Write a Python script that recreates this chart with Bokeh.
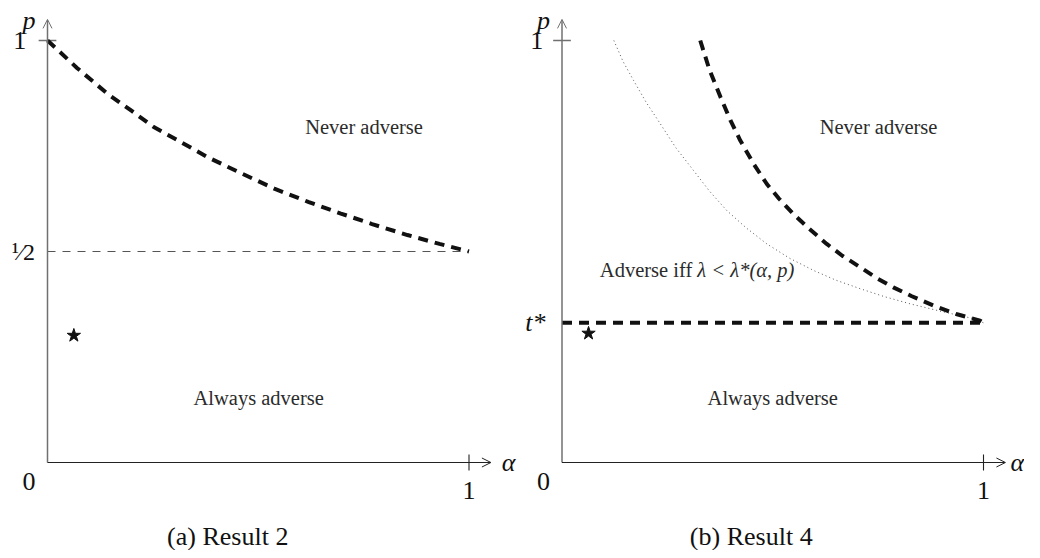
from bokeh.plotting import figure
from bokeh.layouts import row
from bokeh.models import Range1d, Arrow, OpenHead
from bokeh.core.properties import value
from bokeh.embed import file_html
from bokeh.resources import INLINE

# ---------------- data ----------------
# Panel (a): Result 2
a_curve_alpha = [0.0, 0.07, 0.142, 0.2, 0.252, 0.31, 0.379, 0.45, 0.538, 0.62, 0.696, 0.77, 0.854, 0.93, 1.0]
a_curve_p = [1.0, 0.935, 0.874, 0.833, 0.795, 0.763, 0.724, 0.69, 0.649, 0.617, 0.590, 0.565, 0.539, 0.518, 0.5]
a_half = 0.5
a_star = (0.0625, 0.301)

# Panel (b): Result 4
b_thick_alpha = [0.328, 0.350, 0.376, 0.400, 0.423, 0.455, 0.486, 0.515, 0.549, 0.585, 0.628, 0.665,
                 0.707, 0.745, 0.786, 0.830, 0.881, 0.935, 0.992, 1.0]
b_thick_p = [1.0, 0.93, 0.866, 0.81, 0.763, 0.707, 0.660, 0.625, 0.589, 0.555, 0.518, 0.49,
             0.463, 0.438, 0.415, 0.394, 0.372, 0.352, 0.336, 0.331]
b_dot_alpha = [0.123, 0.145, 0.170, 0.200, 0.233, 0.270, 0.312, 0.350, 0.391, 0.437, 0.486, 0.540,
               0.597, 0.650, 0.707, 0.765, 0.826, 0.900, 0.976, 1.0]
b_dot_p = [1.0, 0.95, 0.905, 0.853, 0.803, 0.746, 0.692, 0.643, 0.597, 0.556, 0.518, 0.484,
           0.455, 0.432, 0.412, 0.393, 0.376, 0.358, 0.341, 0.331]
b_tstar = 0.331
b_star = (0.063, 0.306)

FONT = value("Liberation Serif")
AXIS_GRAY = "#707070"
TXT = "#2b2b2b"
SX = 421.5
SY = 422.0
H = 550
Y_TOP = 1 + 40 / SY
Y_BOT = Y_TOP - H / SY


def base_fig(width, x0, alpha_x):
    p = figure(width=width, height=H, output_backend="svg", toolbar_location=None,
               x_axis_type=None, y_axis_type=None, min_border=0,
               x_range=Range1d(x0, x0 + width / SX),
               y_range=Range1d(Y_BOT, Y_TOP))
    p.grid.visible = False
    p.outline_line_color = None
    p.background_fill_color = "white"
    p.border_fill_color = "white"
    # axes with open arrow heads
    p.add_layout(Arrow(end=OpenHead(size=9, line_width=1, line_color=AXIS_GRAY),
                       x_start=0, y_start=0, x_end=0, y_end=1.05,
                       line_color=AXIS_GRAY, line_width=1.5))
    p.add_layout(Arrow(end=OpenHead(size=9, line_width=1, line_color="#222222"),
                       x_start=0, y_start=0, x_end=1.052, y_end=0,
                       line_color="#222222", line_width=1.1))
    # ticks
    p.segment(x0=[-0.021], y0=[1], x1=[0.021], y1=[1], line_color=AXIS_GRAY, line_width=1.5)
    p.segment(x0=[1], y0=[-0.019], x1=[1], y1=[0.019], line_color="#222222", line_width=1.1)
    # axis labels
    p.text(x=[-0.044], y=[1.047], text=["p"], text_font=FONT, text_font_style="italic",
           text_font_size="26px", text_align="center", text_baseline="middle", text_color="#111111")
    p.text(x=[alpha_x], y=[0.0], text=["α"], text_font=FONT, text_font_style="italic",
           text_font_size="26px", text_align="center", text_baseline="middle", text_color="#111111")
    p.text(x=[-0.044], y=[-0.045], text=["0"], text_font=FONT,
           text_font_size="26px", text_align="center", text_baseline="middle", text_color="#111111")
    p.text(x=[1.0], y=[-0.066], text=["1"], text_font=FONT,
           text_font_size="26px", text_align="center", text_baseline="middle", text_color="#111111")
    return p


# ---------------- panel (a) ----------------
pa = base_fig(520, -47 / SX, 1.094)
pa.text(x=[-0.066], y=[1.0], text=["1"], text_font=FONT, text_font_size="26px",
        text_align="center", text_baseline="middle", text_color="#111111")
pa.text(x=[-0.057], y=[a_half], text=["¹⁄2"], text_font=FONT, text_font_size="24px",
        text_align="center", text_baseline="middle", text_color="#111111")
pa.line(x=[0, 1], y=[a_half, a_half], line_color="#555555", line_width=1.1, line_dash="8 7")
pa.line(x=a_curve_alpha, y=a_curve_p, line_color="#111111", line_width=4, line_dash="10 7")
pa.scatter(x=[a_star[0]], y=[a_star[1]], marker="star", size=14, color="#111111")
pa.text(x=[0.751], y=[0.796], text=["Never adverse"], text_font=FONT, text_font_size="20.5px",
        text_align="center", text_baseline="middle", text_color=TXT)
pa.text(x=[0.501], y=[0.152], text=["Always adverse"], text_font=FONT, text_font_size="20.5px",
        text_align="center", text_baseline="middle", text_color=TXT)
pa.text(x=[0.4276], y=[-0.176], text=["(a) Result 2"], text_font=FONT, text_font_size="26px",
        text_align="center", text_baseline="middle", text_color="#111111")

# ---------------- panel (b) ----------------
pb = base_fig(504, -41.5 / SX, 1.08)
pb.text(x=[-0.060], y=[1.0], text=["1"], text_font=FONT, text_font_size="26px",
        text_align="center", text_baseline="middle", text_color="#111111")
pb.text(x=[-0.063], y=[b_tstar], text=["t*"], text_font=FONT, text_font_style="italic",
        text_font_size="26px", text_align="center", text_baseline="middle", text_color="#111111")
pb.line(x=[0, 1], y=[b_tstar, b_tstar], line_color="#111111", line_width=4, line_dash="10 7")
pb.line(x=b_dot_alpha, y=b_dot_p, line_color="#555555", line_width=1, line_dash="1 3")
pb.line(x=b_thick_alpha, y=b_thick_p, line_color="#111111", line_width=4, line_dash="10 7")
pb.scatter(x=[b_star[0]], y=[b_star[1]], marker="star", size=14, color="#111111")
pb.text(x=[0.751], y=[0.796], text=["Never adverse"], text_font=FONT, text_font_size="20.5px",
        text_align="center", text_baseline="middle", text_color=TXT)
pb.text(x=[0.309], y=[0.457], text=["Adverse iff"], text_font=FONT, text_font_size="20.5px",
        text_align="right", text_baseline="middle", text_color=TXT)
pb.text(x=[0.321], y=[0.457], text=["λ < λ*(α, p)"], text_font=FONT, text_font_style="italic",
        text_font_size="20.5px", text_align="left", text_baseline="middle", text_color=TXT)
pb.text(x=[0.5], y=[0.154], text=["Always adverse"], text_font=FONT, text_font_size="20.5px",
        text_align="center", text_baseline="middle", text_color=TXT)
pb.text(x=[0.449], y=[-0.176], text=["(b) Result 4"], text_font=FONT, text_font_size="26px",
        text_align="center", text_baseline="middle", text_color="#111111")

layout = row(pa, pb, spacing=0)
open("out.html", "w").write(file_html(layout, INLINE))
